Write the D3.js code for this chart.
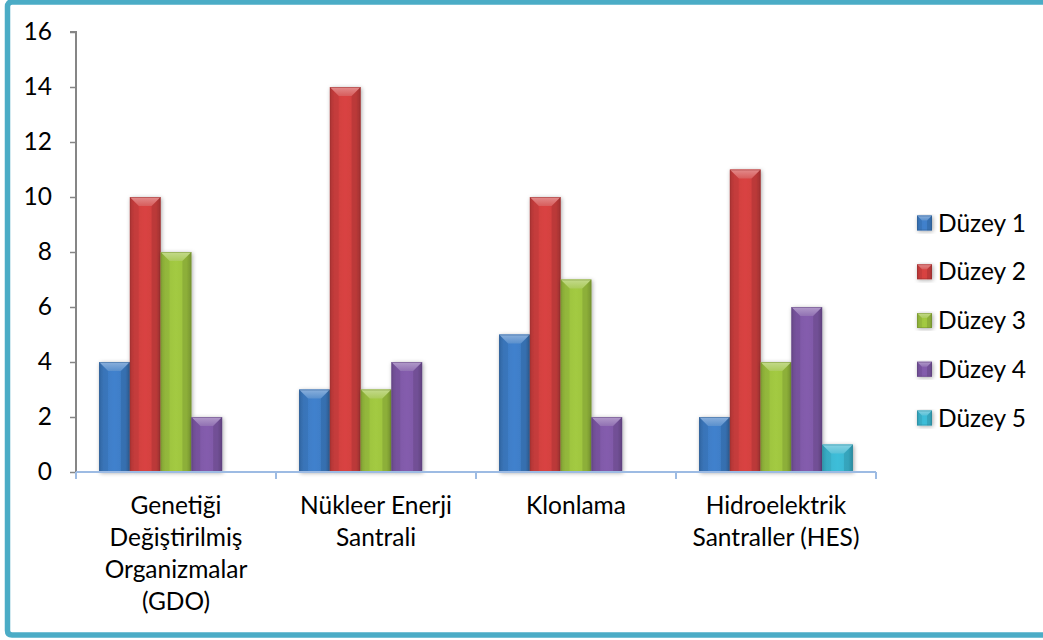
<!DOCTYPE html>
<html>
<head>
<meta charset="utf-8">
<script src="https://cdn.jsdelivr.net/npm/d3@7"></script>
<style>
  html, body { margin: 0; padding: 0; background: #fff; }
  svg { display: block; font-family: Lato, "Open Sans", "Liberation Sans", sans-serif; }
</style>
</head>
<body>
<svg id="chart" width="1043" height="640"></svg>
<script>
// Survey categories and the counts per level (Düzey 1–5)
const categories = [
  ["Genetiği", "Değiştirilmiş", "Organizmalar", "(GDO)"],
  ["Nükleer Enerji", "Santrali"],
  ["Klonlama"],
  ["Hidroelektrik", "Santraller (HES)"]
];
const seriesNames = ["Düzey 1", "Düzey 2", "Düzey 3", "Düzey 4", "Düzey 5"];
const duzey1 = [4, 3, 5, 2];
const duzey2 = [10, 14, 10, 11];
const duzey3 = [8, 3, 7, 4];
const duzey4 = [2, 4, 2, 6];
const duzey5 = [0, 0, 0, 1];
const yTicks = [0, 2, 4, 6, 8, 10, 12, 14, 16];
const seriesColors = ["#3d7cc4", "#d0403f", "#9cc23f", "#7e58a6", "#3bb6d0"];

const seriesValues = [duzey1, duzey2, duzey3, duzey4, duzey5];
const svg = d3.select("#chart");
const FONT = 24.5;

// Outer frame (top, left, bottom edges)
svg.append("path")
  .attr("d", "M1043,2 L12,2 Q7.5,2 7.5,6.5 L7.5,630.5 Q7.5,635 12,635 L1043,635")
  .attr("fill", "none")
  .attr("stroke", "#4bacc6")
  .attr("stroke-width", 5.5);

const defs = svg.append("defs");
const shadow = defs.append("filter").attr("id", "shadow")
  .attr("x", "-30%").attr("y", "-10%").attr("width", "160%").attr("height", "130%");
shadow.append("feDropShadow")
  .attr("dx", 1).attr("dy", 1).attr("stdDeviation", 2)
  .attr("flood-color", "#000").attr("flood-opacity", 0.35);

seriesColors.forEach((c, i) => {
  const g = defs.append("linearGradient").attr("id", "face" + i)
    .attr("x1", 0).attr("x2", 1).attr("y1", 0).attr("y2", 0);
  const base = d3.color(c);
  g.append("stop").attr("offset", "0%").attr("stop-color", base.darker(0.35));
  g.append("stop").attr("offset", "15%").attr("stop-color", base);
  g.append("stop").attr("offset", "50%").attr("stop-color", base.brighter(0.12));
  g.append("stop").attr("offset", "85%").attr("stop-color", base);
  g.append("stop").attr("offset", "100%").attr("stop-color", base.darker(0.45));
  const t = defs.append("linearGradient").attr("id", "top" + i)
    .attr("x1", 0).attr("x2", 0).attr("y1", 0).attr("y2", 1);
  t.append("stop").attr("offset", "0%").attr("stop-color", d3.interpolateRgb(c, "#fff")(0.4));
  t.append("stop").attr("offset", "100%").attr("stop-color", d3.interpolateRgb(c, "#fff")(0.15));
});

const margin = { left: 76, top: 32, right: 876, bottom: 472 };
const x = d3.scaleBand().domain(d3.range(categories.length))
  .range([margin.left, margin.right]).paddingInner(0).paddingOuter(0);
const inner = d3.scaleBand().domain(d3.range(seriesNames.length))
  .range([0, x.bandwidth()]).paddingInner(0).paddingOuter(0.75);
const y = d3.scaleLinear().domain([0, 16]).range([margin.bottom, margin.top]);

// Y axis
const yAxis = svg.append("g")
  .attr("transform", `translate(${margin.left},0)`)
  .call(d3.axisLeft(y).tickValues(yTicks).tickSize(6).tickPadding(8).tickFormat(d3.format("d")));
yAxis.select(".domain").attr("stroke", "#868686").attr("stroke-width", 2)
  .attr("d", `M-6,${y(16)}H0V${y(0)}`);
yAxis.selectAll(".tick line").attr("stroke", "#868686").attr("stroke-width", 1.5);
yAxis.selectAll(".tick text").attr("font-size", FONT).attr("fill", "#000")
  .attr("font-family", "Lato, 'Open Sans', sans-serif").attr("x", -24);

// Bars
function bevelBar(g, bx, by, w, h, i) {
  const b = Math.min(9, w / 3, h / 2);
  g.append("rect").attr("x", bx).attr("y", by).attr("width", w).attr("height", h)
    .attr("fill", `url(#face${i})`).attr("filter", "url(#shadow)");
  g.append("path")
    .attr("d", `M${bx},${by}L${bx + w},${by}L${bx + w - b},${by + b}L${bx + b},${by + b}Z`)
    .attr("fill", `url(#top${i})`);
  g.append("path")
    .attr("d", `M${bx},${by}L${bx + b},${by + b}L${bx + b},${by + h}L${bx},${by + h}Z`)
    .attr("fill", "#000").attr("opacity", 0.06);
  g.append("path")
    .attr("d", `M${bx + w},${by}L${bx + w - b},${by + b}L${bx + w - b},${by + h}L${bx + w},${by + h}Z`)
    .attr("fill", "#000").attr("opacity", 0.1);
  g.append("rect").attr("x", bx + 0.5).attr("y", by + 0.5).attr("width", w - 1).attr("height", h - 1)
    .attr("fill", "none").attr("stroke", d3.color(seriesColors[i]).darker(0.8)).attr("stroke-opacity", 0.5);
}

const barsG = svg.append("g");
seriesValues.forEach((vals, si) => {
  vals.forEach((v, ci) => {
    if (v <= 0) return;
    const bx = x(ci) + inner(si);
    bevelBar(barsG.append("g"), bx, y(v), inner.bandwidth(), y(0) - y(v), si);
  });
});

// X axis
const xAxis = svg.append("g").attr("transform", `translate(0,${margin.bottom})`);
xAxis.append("line").attr("x1", margin.left).attr("x2", margin.right)
  .attr("stroke", "#9dbbe3").attr("stroke-width", 2);
const xTickPos = d3.range(categories.length + 1).map(i => margin.left + i * x.bandwidth());
xAxis.selectAll("line.tick").data(xTickPos).join("line").attr("class", "tick")
  .attr("x1", d => d).attr("x2", d => d).attr("y1", 0).attr("y2", 7)
  .attr("stroke", "#9dbbe3").attr("stroke-width", 2);

const labels = svg.append("g").attr("font-size", FONT).attr("fill", "#000").attr("text-anchor", "middle");
categories.forEach((lines, ci) => {
  const t = labels.append("text").attr("x", x(ci) + x.bandwidth() / 2).attr("y", 514);
  lines.forEach((ln, li) => t.append("tspan").attr("x", x(ci) + x.bandwidth() / 2)
    .attr("dy", li === 0 ? 0 : 32).text(ln));
});

// Legend
const legend = svg.append("g");
seriesNames.forEach((name, i) => {
  const ly = 223 + i * 48.75;
  bevelBar(legend.append("g"), 917, ly - 7.5, 15, 15, i);
  legend.append("text").attr("x", 938).attr("y", ly + 8.5).attr("font-size", FONT)
    .attr("fill", "#000").text(name);
});
</script>
</body>
</html>
